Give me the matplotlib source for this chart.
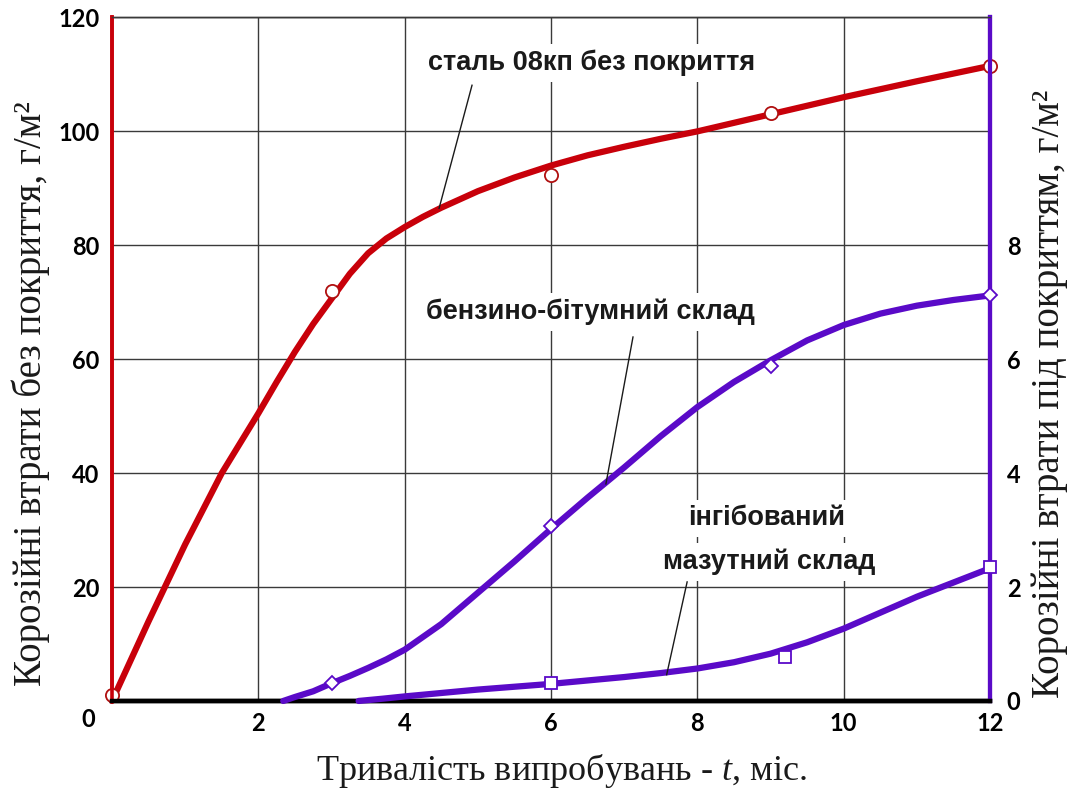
import matplotlib
matplotlib.use('Agg')
import matplotlib.pyplot as plt
from matplotlib.transforms import ScaledTranslation

plt.rcParams['mathtext.fontset'] = 'custom'
plt.rcParams['mathtext.rm'] = 'Liberation Serif'
plt.rcParams['mathtext.it'] = 'Liberation Serif:italic'

# ---- data ----
# steel 08kp without coating (left axis, g/m2)
steel_curve_t = [0, 0.5, 1, 1.5, 2, 2.25, 2.5, 2.75, 3, 3.25, 3.5, 3.75, 4, 4.25, 4.5, 5, 5.5, 6, 6.5, 7, 7.5, 8, 8.5, 9, 9.5, 10, 11, 12]
steel_curve_y = [0, 14, 27.5, 40, 50.5, 56, 61.3, 66.2, 70.6, 75, 78.6, 81.2, 83.2, 85, 86.6, 89.5, 91.9, 94, 95.8, 97.3, 98.7, 100, 101.5, 103, 104.5, 106, 108.8, 111.5]
steel_pts_t = [0, 3, 6, 9, 12]
steel_pts_y = [1.0, 72, 92.3, 103.3, 111.4]

# petrol-bitumen composition (right axis, g/m2)
benz_curve_t = [2.34, 2.5, 2.75, 3, 3.25, 3.5, 3.75, 4, 4.5, 5, 5.5, 6, 6.5, 7, 7.5, 8, 8.5, 9, 9.5, 10, 10.5, 11, 11.5, 12]
benz_curve_y = [0, 0.07, 0.17, 0.31, 0.44, 0.58, 0.73, 0.9, 1.35, 1.9, 2.45, 3.02, 3.57, 4.1, 4.65, 5.16, 5.6, 5.98, 6.33, 6.6, 6.8, 6.94, 7.04, 7.12]
benz_pts_t = [3, 6, 9, 12]
benz_pts_y = [0.32, 3.07, 5.88, 7.13]

# inhibited fuel-oil composition (right axis, g/m2)
maz_curve_t = [3.37, 3.7, 4, 4.5, 5, 5.5, 6, 6.5, 7, 7.5, 8, 8.5, 9, 9.5, 10, 10.5, 11, 11.5, 12]
maz_curve_y = [0, 0.04, 0.08, 0.14, 0.2, 0.25, 0.3, 0.36, 0.42, 0.49, 0.57, 0.68, 0.83, 1.03, 1.27, 1.55, 1.83, 2.08, 2.33]
maz_pts_t = [6, 9.2, 12]
maz_pts_y = [0.31, 0.78, 2.35]

x_ticks = [2, 4, 6, 8, 10, 12]
left_ticks = [0, 20, 40, 60, 80, 100, 120]
right_ticks = [0, 2, 4, 6, 8]

label_steel = 'сталь 08кп без покриття'
label_benz = 'бензино-бітумний склад'
label_maz1 = 'інгібований'
label_maz2 = 'мазутний склад'

RED = '#C8000A'
PURPLE = '#5A0AC8'
GRID = '#3a3a3a'

fig = plt.figure(figsize=(10.73, 7.9), dpi=100)
ax = fig.add_axes([0.1044, 0.1127, 0.8183, 0.8652])
ax2 = ax.twinx()

ax.set_xlim(0, 12)
ax.set_ylim(0, 120)
ax2.set_ylim(0, 12)

ax.set_xticks(x_ticks)
ax.set_yticks(left_ticks)
ax2.set_yticks(right_ticks)
tick_font = dict(family='Lato', weight='bold', size=17)
ax.set_xticklabels([str(v) for v in x_ticks], **tick_font)
ax.set_yticklabels([str(v) for v in left_ticks], **tick_font)
ax2.set_yticklabels([str(v) for v in right_ticks], **tick_font)
ax.tick_params(axis='both', length=0)
ax.tick_params(axis='x', pad=8)
ax.tick_params(axis='y', pad=9)
ax2.tick_params(axis='y', length=0, pad=12)
# the left "0" sits slightly lower in the reference
lbl0 = ax.get_yticklabels()[0]
lbl0.set_transform(lbl0.get_transform() + ScaledTranslation(-3/72, -12/72, fig.dpi_scale_trans))

ax.grid(True, color=GRID, lw=1.0)
ax.set_axisbelow(True)

for a in (ax, ax2):
    a.spines['top'].set_color(GRID)
    a.spines['top'].set_linewidth(1.0)
    a.spines['bottom'].set_color('black')
    a.spines['bottom'].set_linewidth(3.2)
    a.spines['left'].set_color(RED)
    a.spines['left'].set_linewidth(2.6)
    a.spines['right'].set_color(PURPLE)
    a.spines['right'].set_linewidth(3.0)

# curves
ax.plot(steel_curve_t, steel_curve_y, color=RED, lw=4.5, solid_capstyle='round',
        solid_joinstyle='round', zorder=3, clip_on=False)
ax.plot(steel_pts_t, steel_pts_y, 'o', ms=9.5, mfc='white', mec='#B01010', mew=1.3, zorder=4, clip_on=False)

ax2.plot(benz_curve_t, benz_curve_y, color=PURPLE, lw=4.5, solid_capstyle='round',
         solid_joinstyle='round', zorder=3, clip_on=False)
ax2.plot(benz_pts_t, benz_pts_y, 'D', ms=7, mfc='white', mec=PURPLE, mew=1.3, zorder=4, clip_on=False)

ax2.plot(maz_curve_t, maz_curve_y, color=PURPLE, lw=4.5, solid_capstyle='round',
         solid_joinstyle='round', zorder=3, clip_on=False)
ax2.plot(maz_pts_t, maz_pts_y, 's', ms=9, mfc='white', mec=PURPLE, mew=1.3, zorder=4, clip_on=False)

# annotations
ann_font = dict(family='Liberation Sans', weight='bold', size=19.5, color='#1a1a1a')
box = dict(boxstyle='square,pad=0.2', fc='white', ec='none')
ax2.text(6.56, 11.2, label_steel, ha='center', va='center', bbox=box, zorder=5, **ann_font)
ax2.text(6.54, 6.83, label_benz, ha='center', va='center', bbox=box, zorder=5, **ann_font)
ax2.text(8.95, 3.21, label_maz1, ha='center', va='center', bbox=box, zorder=5, **ann_font)
ax2.text(8.98, 2.44, label_maz2, ha='center', va='center', bbox=box, zorder=5, **ann_font)

# leader lines
ax.plot([4.92, 4.47], [108.1, 86.5], color='#1a1a1a', lw=1.0, zorder=5)
ax2.plot([7.12, 6.75], [6.39, 3.81], color='#1a1a1a', lw=1.0, zorder=5)
ax2.plot([7.86, 7.58], [2.09, 0.46], color='#1a1a1a', lw=1.0, zorder=5)

# axis labels
ylab_font = dict(family='Liberation Serif', size=28, color='#1a1a1a')
xlab_font = dict(family='Liberation Serif', size=26, color='#1a1a1a')
fig.text(0.029, 0.502, 'Корозійні втрати без покриття, г/м²', rotation=90, ha='center', va='center', **ylab_font)
fig.text(0.978, 0.502, 'Корозійні втрати під покриттям, г/м²', rotation=90, ha='center', va='center', **ylab_font)
fig.text(0.523, 0.024, 'Тривалість випробувань - $\\mathit{t}$, міс.', ha='center', va='center', **xlab_font)

fig.savefig('out.png', dpi=100, facecolor='white')
